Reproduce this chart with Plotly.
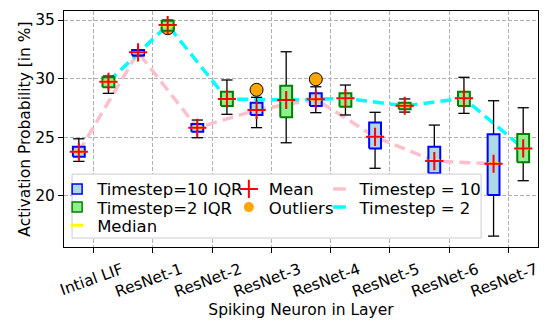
import plotly.graph_objects as go
import numpy as np

layers = ["Intial LIF", "ResNet-1", "ResNet-2", "ResNet-3",
          "ResNet-4", "ResNet-5", "ResNet-6", "ResNet-7"]

# timestep = 10 (blue boxes)
t10_low = [22.93, 31.95, 24.95, 25.81, 27.09, 22.34, 20.80, 16.55]
t10_q1 = [23.33, 31.98, 25.46, 26.89, 27.66, 24.04, 21.91, 20.06]
t10_med = [23.75, 32.22, 25.80, 27.30, 28.22, 25.05, 22.98, 22.75]
t10_q3 = [24.18, 32.44, 26.12, 27.94, 28.74, 26.26, 24.18, 25.24]
t10_high = [24.86, 32.47, 26.46, 28.40, 29.30, 27.12, 26.03, 28.11]
t10_mean = [23.75, 32.24, 25.80, 27.32, 28.23, 25.03, 22.96, 22.73]

# timestep = 2 (green boxes)
t2_low = [28.74, 34.10, 26.95, 24.52, 26.89, 27.14, 27.03, 21.28]
t2_q1 = [29.25, 34.09, 27.66, 26.69, 27.60, 27.38, 27.66, 22.85]
t2_med = [29.73, 34.55, 28.25, 28.15, 28.30, 27.68, 28.30, 24.00]
t2_q3 = [30.11, 34.94, 28.88, 29.39, 28.74, 27.94, 28.88, 25.27]
t2_high = [30.22, 35.00, 29.88, 32.29, 29.45, 28.26, 30.11, 27.51]
t2_mean = [29.73, 34.57, 28.26, 28.17, 28.31, 27.68, 28.31, 24.04]

# outliers: (layer index, value)
t10_out_idx = [3, 4]
t10_out_val = [29.04, 29.94]
t2_out_idx = [1]
t2_out_val = [34.30]

idx = np.arange(len(layers))
pos10 = idx - 0.25
pos2 = idx + 0.25
w = 0.2
FONT = "DejaVu Sans"


def box_xy(pos, q1, q3):
    xs, ys = [], []
    for p, a, b in zip(pos, q1, q3):
        xs += [p - w / 2, p + w / 2, p + w / 2, p - w / 2, p - w / 2, None]
        ys += [a, a, b, b, a, None]
    return xs, ys


def whisker_xy(pos, low, q1, q3, high):
    xs, ys = [], []
    for p, lo, a, b, hi in zip(pos, low, q1, q3, high):
        xs += [p, p, None, p, p, None]
        ys += [b, hi, None, a, lo, None]
    return xs, ys


def median_xy(pos, med):
    xs, ys = [], []
    for p, m in zip(pos, med):
        xs += [p - w / 2, p + w / 2, None]
        ys += [m, m, None]
    return xs, ys


fig = go.Figure()

# mean trend lines (under the boxes)
fig.add_trace(go.Scatter(x=pos10, y=t10_mean, mode="lines", showlegend=False,
                         line=dict(color="pink", width=3.5, dash="11px,6px")))
fig.add_trace(go.Scatter(x=pos2, y=t2_mean, mode="lines", showlegend=False,
                         line=dict(color="cyan", width=3.5, dash="11px,6px")))

# whiskers + caps
for pos, lo, a, b, hi in [(pos10, t10_low, t10_q1, t10_q3, t10_high),
                          (pos2, t2_low, t2_q1, t2_q3, t2_high)]:
    xs, ys = whisker_xy(pos, lo, a, b, hi)
    fig.add_trace(go.Scatter(x=xs, y=ys, mode="lines", showlegend=False,
                             line=dict(color="black", width=1.3)))
    fig.add_trace(go.Scatter(x=list(pos) + list(pos), y=list(lo) + list(hi),
                             mode="markers", showlegend=False,
                             marker=dict(symbol="line-ew", size=8,
                                         line=dict(color="black", width=1.3))))

# outliers
fig.add_trace(go.Scatter(x=[idx[i] - 0.25 for i in t10_out_idx] + [idx[i] + 0.25 for i in t2_out_idx],
                         y=t10_out_val + t2_out_val, mode="markers", showlegend=False,
                         marker=dict(symbol="circle", size=13, color="orange",
                                     line=dict(color="black", width=1))))

# IQR boxes
for pos, a, b, fc, lc in [(pos10, t10_q1, t10_q3, "lightblue", "blue"),
                          (pos2, t2_q1, t2_q3, "lightgreen", "green")]:
    xs, ys = box_xy(pos, a, b)
    fig.add_trace(go.Scatter(x=xs, y=ys, mode="lines", fill="toself", fillcolor=fc,
                             showlegend=False, line=dict(color=lc, width=2)))

# medians
for pos, med in [(pos10, t10_med), (pos2, t2_med)]:
    xs, ys = median_xy(pos, med)
    fig.add_trace(go.Scatter(x=xs, y=ys, mode="lines", showlegend=False,
                             line=dict(color="yellow", width=2.5)))

# means
fig.add_trace(go.Scatter(x=list(pos10) + list(pos2), y=t10_mean + t2_mean,
                         mode="markers", showlegend=False,
                         marker=dict(symbol="cross-thin", size=13,
                                     line=dict(color="red", width=2))))

# legend entries, one small legend per entry so rows/cols sit like the original
legend_style = dict(xanchor="left", yanchor="top", bgcolor="rgba(0,0,0,0)",
                    borderwidth=0, font=dict(family=FONT, size=16.5, color="black"),
                    itemwidth=30)
col_x = [-0.0145, 0.3478, 0.539]
row_y = [0.319, 0.242, 0.165]
legends = {}


def leg(name, col, row, **marker):
    key = "legend" if not legends else "legend%d" % (len(legends) + 1)
    legends[key] = dict(x=col_x[col], y=row_y[row], **legend_style)
    fig.add_trace(go.Scatter(x=[None], y=[None], mode="markers", name=name,
                             legend=key, marker=marker))


leg("Timestep=10 IQR", 0, 0, symbol="square", size=10, color="lightblue",
    line=dict(color="blue", width=1.5))
leg("Timestep=2 IQR", 0, 1, symbol="square", size=10, color="lightgreen",
    line=dict(color="green", width=1.5))
leg("Median", 0, 2, symbol="line-ew", size=9, line=dict(color="yellow", width=3))
leg("Mean", 1, 0, symbol="cross-thin", size=13, line=dict(color="red", width=2))
leg("Outliers", 1, 1, symbol="circle", size=10, color="orange",
    line=dict(color="orange", width=0))
leg("Timestep = 10", 2, 0, symbol="line-ew", size=9, line=dict(color="pink", width=3.5))
leg("Timestep = 2", 2, 1, symbol="line-ew", size=9, line=dict(color="cyan", width=3.5))

# the page puts the figure 8px in from the top-left corner
fig.update_layout(
    width=548, height=322,
    margin=dict(l=56, r=18, t=3, b=83),
    paper_bgcolor="white", plot_bgcolor="white",
    font=dict(family=FONT, size=15.5, color="black"),
    shapes=[dict(type="rect", xref="paper", yref="paper", x0=0.017, x1=0.88,
                 y0=0.038, y1=0.309, fillcolor="white", layer="above",
                 line=dict(color="#cccccc", width=1))],
    **legends,
)

fig.update_xaxes(
    range=[-0.5, 7.5], tickvals=idx, ticktext=layers, tickangle=-20,
    ticklabelshift=28, ticklabelstandoff=2, automargin=False,
    ticks="outside", ticklen=5, tickcolor="black",
    showline=True, linecolor="black", linewidth=1, mirror=True,
    showgrid=True, gridcolor="#b0b0b0", griddash="4px,2px", gridwidth=1,
    zeroline=False, title=dict(text="Spiking Neuron in Layer", font=dict(size=15.5), standoff=0),
)
fig.update_yaxes(
    range=[15.62, 35.77], tickvals=[20, 25, 30, 35], automargin=False,
    ticks="outside", ticklen=5, tickcolor="black",
    showline=True, linecolor="black", linewidth=1, mirror=True,
    showgrid=True, gridcolor="#b0b0b0", griddash="4px,2px", gridwidth=1,
    zeroline=False, title=dict(text="Activation Probability [in %]", font=dict(size=15.5), standoff=0),
)

fig.write_html("out.html")
